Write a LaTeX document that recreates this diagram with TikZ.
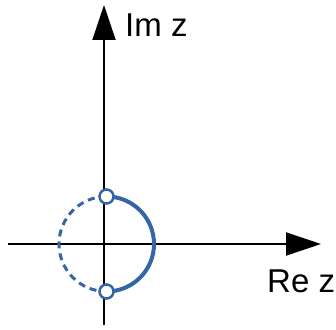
\documentclass[tikz,border=0pt]{standalone}
\usepackage{fontspec}
\setmainfont{Liberation Sans}
\usetikzlibrary{arrows.meta}
\definecolor{arcblue}{RGB}{52,101,164}
\begin{document}
\begin{tikzpicture}[x=1pt,y=1pt,
  axis/.style={line width=2pt,-{Triangle[length=35pt,width=23pt]}},
  solidarc/.style={arcblue,line width=4pt},
  dasharc/.style={arcblue,line width=3pt,dash pattern=on 7pt off 5pt},
  hole/.style={circle,draw=arcblue,fill=white,line width=2.5pt,minimum size=14pt,inner sep=0pt},
  lbl/.style={font=\fontsize{33}{33}\selectfont,inner sep=0pt}]
\useasboundingbox (0,0) rectangle (336,329);
\coordinate (xs) at (8,85);
\coordinate (xe) at (321,85);
\coordinate (ys) at (104,4);
\coordinate (ye) at (104,324);
\draw[axis] (xs) -- (xe);
\draw[axis] (ys) -- (ye);
\coordinate (c) at (106.5,85);
\draw[solidarc] (106.5,132.5) arc[start angle=90,end angle=-90,radius=47.5];
\draw[dasharc] (106.5,132.5) arc[start angle=90,end angle=270,radius=47.5];
\node[hole] (top) at (106.5,132.5) {};
\node[hole] (bot) at (106.5,37.5) {};
\node[lbl,anchor=base west] (im) at (125,292) {Im z};
\node[lbl,anchor=base west] (re) at (267,37) {Re z};
\end{tikzpicture}
\end{document}
